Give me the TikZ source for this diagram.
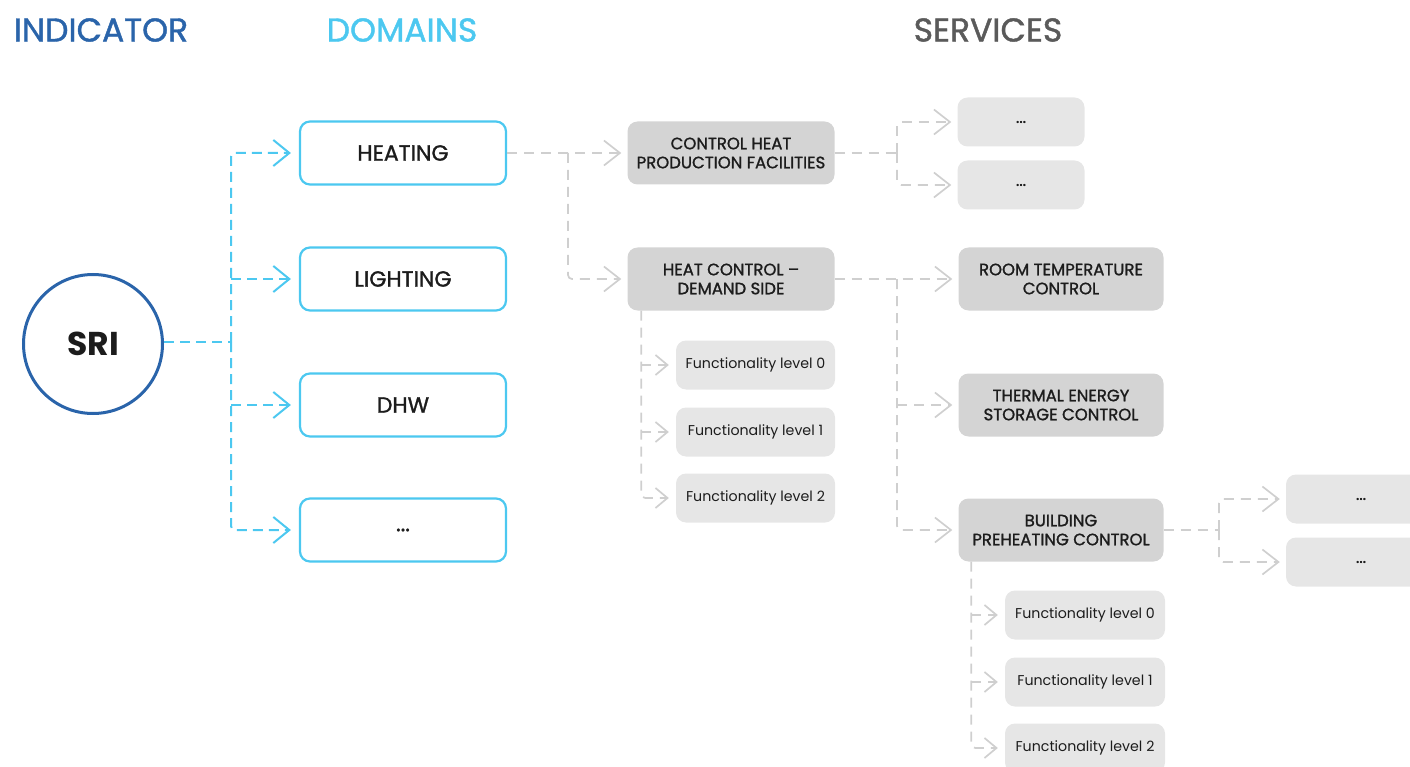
\documentclass[tikz,border=0pt]{standalone}
\usepackage{fontspec}
\setmainfont{Poppins}
\newfontfamily\medfont{Poppins}[FakeBold=1.3,Ligatures=TeX]
\usetikzlibrary{arrows.meta}
\definecolor{sriblue}{HTML}{2A64AA}
\definecolor{domblue}{HTML}{4CC8F0}
\definecolor{svcgray}{HTML}{5A5A5A}
\definecolor{boxdark}{HTML}{D4D4D4}
\definecolor{boxlight}{HTML}{E6E6E6}
\definecolor{linegray}{HTML}{CFCFCF}
\definecolor{txt}{HTML}{1C1C1C}
\begin{document}
\begin{tikzpicture}[x=1pt,y=-1pt,
  heading/.style={font=\medfont\fontsize{33}{33}\selectfont, anchor=center},
  dombox/.style={draw=domblue, line width=2.2pt, rounded corners=10pt, minimum width=206pt, minimum height=63pt, inner sep=0pt, font=\medfont\fontsize{22}{22}\selectfont, text=txt},
  svcbox/.style={fill=boxdark, rounded corners=10pt, minimum width=207pt, minimum height=63pt, inner sep=0pt, align=center, font=\medfont\fontsize{16.5}{19}\selectfont, text=txt},
  dotbox/.style={fill=boxlight, rounded corners=10pt, minimum width=127pt, minimum height=49pt, inner sep=0pt, font=\medfont\fontsize{16}{16}\selectfont, text=txt},
  funcbox/.style={fill=boxlight, rounded corners=10pt, minimum width=159pt, minimum height=49pt, inner sep=0pt, font=\fontsize{14.2}{14.2}\selectfont, text=txt},
  bconn/.style={draw=domblue, line width=2pt, dash pattern=on 10pt off 6pt, rounded corners=4pt},
  barrow/.style={-{Straight Barb[length=16pt,width=26pt]}, shorten >=8pt},
  gconn/.style={draw=linegray, line width=1.7pt, dash pattern=on 10pt off 7pt, rounded corners=4pt},
  garrow/.style={-{Straight Barb[length=16pt,width=25pt]}, shorten >=6pt},
  farrow/.style={-{Straight Barb[length=12pt,width=20pt]}, shorten >=7pt}
]
\useasboundingbox (0,0) rectangle (1410,767);

% headings
\node[heading, text=sriblue] (hind) at (101,30) {INDICATOR};
\node[heading, text=domblue] (hdom) at (402,30) {DOMAINS};
\node[heading, text=svcgray] (hsvc) at (988,30) {SERVICES};

% indicator
\node[circle, draw=sriblue, line width=3pt, minimum size=139pt, inner sep=0pt, font=\bfseries\fontsize{33}{33}\selectfont, text=txt] (sri) at (93,344) {SRI};

% domains
\node[dombox] (heat) at (403,153) {HEATING};
\node[dombox] (light) at (403,279) {LIGHTING};
\node[dombox] (dhw) at (403,405) {DHW};
\node[dombox] (dom4) at (403,530) {...};

% services level 1
\node[svcbox] (ctrl) at (731,153) {CONTROL HEAT\\PRODUCTION FACILITIES};
\node[svcbox] (hcd) at (731,279) {HEAT CONTROL –\\DEMAND SIDE};

% dots boxes
\node[dotbox] (d1) at (1021,122) {...};
\node[dotbox] (d2) at (1021,185) {...};

% services level 2
\node[svcbox, minimum width=205pt] (room) at (1061,279) {ROOM TEMPERATURE\\CONTROL};
\node[svcbox, minimum width=205pt] (therm) at (1061,405) {THERMAL ENERGY\\STORAGE CONTROL};
\node[svcbox, minimum width=205pt] (bpc) at (1061,530) {BUILDING\\PREHEATING CONTROL};

% functionality levels (heat control)
\node[funcbox] (f0) at (755.5,365) {Functionality level 0};
\node[funcbox] (f1) at (755.5,432) {Functionality level 1};
\node[funcbox] (f2) at (755.5,498) {Functionality level 2};

% functionality levels (building preheating)
\node[funcbox, minimum width=160pt] (g0) at (1085,615) {Functionality level 0};
\node[funcbox, minimum width=160pt] (g1) at (1085,682) {Functionality level 1};
\node[funcbox, minimum width=160pt] (g2) at (1085,748) {Functionality level 2};

% right dots boxes
\node[dotbox, minimum width=150pt, text width=124pt, align=center] (r1) at (1361,499) {...};
\node[dotbox, minimum width=150pt, text width=124pt, align=center] (r2) at (1361,562) {...};

% blue connectors
\coordinate (js) at (231,342);
\draw[bconn] (sri.east |- js) -- (js);
\draw[bconn, barrow] (js) |- (heat.west);
\draw[bconn, barrow] (js) |- (dom4.west);
\draw[bconn, barrow] (js |- light.west) -- (light.west);
\draw[bconn, barrow] (js |- dhw.west) -- (dhw.west);

% heating -> services
\coordinate (jh) at (568,153);
\draw[gconn, garrow] (heat.east) -- (ctrl.west);
\draw[gconn, garrow] (jh) |- (hcd.west);

% control heat -> dots
\coordinate (jc) at (897,153);
\draw[gconn] (ctrl.east) -- (jc);
\draw[gconn, garrow] (jc) |- (d1.west);
\draw[gconn, garrow] (jc) |- (d2.west);

% heat control -> services
\coordinate (jr) at (897,279);
\draw[gconn, garrow] (hcd.east) -- (room.west);
\draw[gconn, garrow] (jr) |- (bpc.west);
\draw[gconn, garrow] (jr |- therm.west) -- (therm.west);

% heat control -> functionality levels
\coordinate (jf) at ([xshift=14pt]hcd.south west);
\draw[gconn, farrow] (jf) |- (f2.west);
\draw[gconn, farrow] (jf |- f0.west) -- (f0.west);
\draw[gconn, farrow] (jf |- f1.west) -- (f1.west);

% building preheating -> dots
\coordinate (jb) at (1219,530);
\draw[gconn] (bpc.east) -- (jb);
\draw[gconn, garrow] (jb) |- (r1.west);
\draw[gconn, garrow] (jb) |- (r2.west);

% building preheating -> functionality levels
\coordinate (jg) at ([xshift=13pt]bpc.south west);
\draw[gconn, farrow] (jg) |- (g2.west);
\draw[gconn, farrow] (jg |- g0.west) -- (g0.west);
\draw[gconn, farrow] (jg |- g1.west) -- (g1.west);
\end{tikzpicture}
\end{document}
